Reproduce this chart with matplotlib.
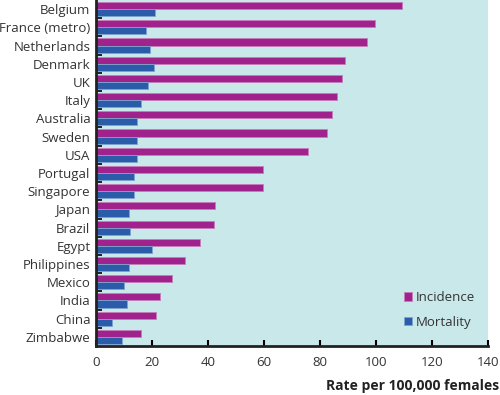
import numpy as np
import matplotlib
matplotlib.use('Agg')
import matplotlib.pyplot as plt

plt.rcParams['font.family'] = ['Open Sans', 'DejaVu Sans']

countries = ['Belgium', 'France (metro)', 'Netherlands', 'Denmark', 'UK', 'Italy',
             'Australia', 'Sweden', 'USA', 'Portugal', 'Singapore', 'Japan', 'Brazil',
             'Egypt', 'Philippines', 'Mexico', 'India', 'China', 'Zimbabwe']
incidence = [109.2, 99.5, 96.7, 89.0, 87.7, 86.0, 84.4, 82.6, 75.7, 59.8, 59.6,
             42.6, 42.3, 37.1, 31.9, 27.0, 23.0, 21.5, 16.2]
mortality = [20.9, 17.7, 19.4, 20.6, 18.5, 16.2, 14.5, 14.6, 14.6, 13.5, 13.7,
             11.9, 12.3, 20.1, 11.9, 10.1, 11.0, 5.7, 9.2]

inc_color = '#a0228c'
mor_color = '#2a5caa'

fig = plt.figure(figsize=(5, 3.95), dpi=100)
ax = fig.add_axes([0.192, 0.124, 0.784, 0.876])
ax.set_facecolor('#c9e8ea')

y = np.arange(len(countries))
h = 0.39
ax.barh(y - h / 2, incidence, height=h, color=inc_color, edgecolor='#c67dbb',
        linewidth=0.6, label='Incidence')
ax.barh(y + h / 2, mortality, height=h, color=mor_color, edgecolor='#7fa3cf',
        linewidth=0.6, label='Mortality')

ax.set_ylim(len(countries) - 0.5, -0.5)
ax.set_xlim(0, 140)
ax.set_yticks(y)
ax.set_yticklabels(countries)
ax.set_yticks(np.arange(0.5, len(countries) - 0.5), minor=True)
ax.tick_params(axis='y', which='major', length=0, labelsize=9.5, pad=4, labelcolor='#333333')
ax.tick_params(axis='y', which='minor', direction='in', length=4, width=1.2)
ax.set_xticks(np.arange(0, 141, 20))
ax.tick_params(axis='x', direction='in', length=4, width=1.5, labelsize=9.5,
               labelcolor='#333333', pad=7)

for s in ['top', 'right']:
    ax.spines[s].set_visible(False)
for s in ['left', 'bottom']:
    ax.spines[s].set_linewidth(2)
    ax.spines[s].set_color('#222222')

fig.text(0.998, 0.005, 'Rate per 100,000 females', ha='right', va='bottom',
         fontsize=10, fontweight='bold', color='#222222')

ax.legend(loc='lower right', bbox_to_anchor=(0.998, 0.015), frameon=False,
          handlelength=0.6, handleheight=0.6, handletextpad=0.3,
          labelspacing=0.9, fontsize=9.5, labelcolor='#333333')

fig.savefig('out.png', dpi=100)
